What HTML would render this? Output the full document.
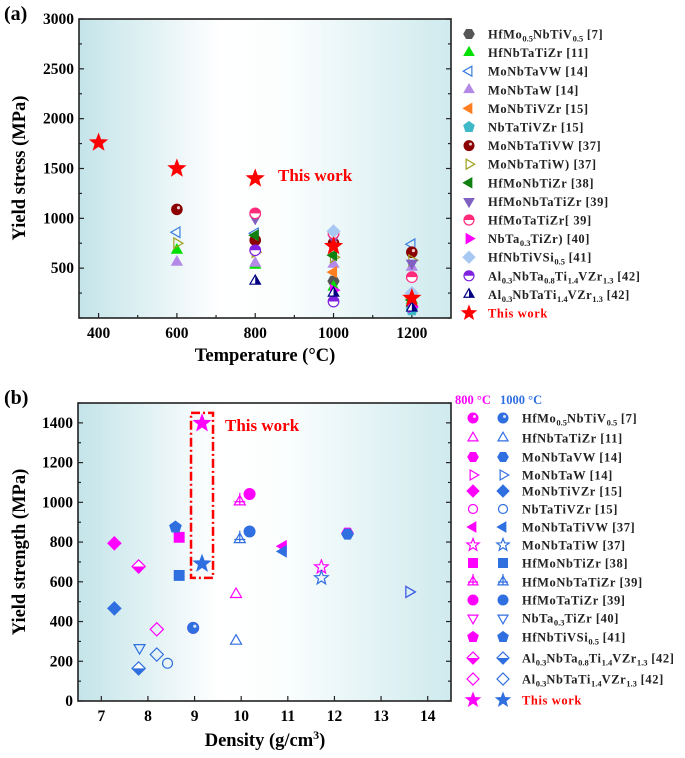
<!DOCTYPE html>
<html><head><meta charset="utf-8">
<style>
html,body{margin:0;padding:0;background:#fff;}
svg{display:block;font-family:"Liberation Serif",serif;font-weight:bold;}
</style></head>
<body>
<svg id="chart" width="685" height="758" viewBox="0 0 685 758" xmlns="http://www.w3.org/2000/svg">
<defs>
<linearGradient id="bgA" x1="0" x2="1" y1="0" y2="0">
<stop offset="0" stop-color="#c4e4e9"/><stop offset="0.38" stop-color="#ffffff"/><stop offset="0.55" stop-color="#fbfefe"/><stop offset="1" stop-color="#cfeaee"/>
</linearGradient>
</defs>
<text x="4" y="20" font-size="20">(a)</text>
<text x="4" y="404" font-size="20">(b)</text>
<g id="gA"></g>
<g id="gB"></g>
</svg>
<script>
// ---------- Panel (a) data ----------
const tempsA = [400, 600, 800, 1000, 1200];
const aHfMo05 = [null, null, null, 370, 120];
const aHfNbTaTiZr = [null, 680, 530, 310, 180];
const aMoNbTaVW = [null, 860, 850, null, 740];
const aMoNbTaW = [null, 560, 550, 540, 510];
const aMoNbTiVZr = [null, null, null, 460, 200];
const aNbTaTiVZr = [null, null, null, null, 80];
const aMoNbTaTiVW = [null, 1090, 780, 750, 660];
const aMoNbTaTiW = [null, 750, 660, 610, 580];
const aHfMoNbTiZr = [null, null, 830, 630, 180];
const aHfMoNbTaTiZr = [null, null, 1000, 800, 550];
const aHfMoTaTiZr = [null, null, 1050, 850, 410];
const aNbTa03TiZr = [null, null, null, 280, 110];
const aHfNbTiVSi = [null, null, null, 870, 250];
const aAlNbTa08 = [null, null, 680, 165, null];
const aAlNbTaTi14 = [null, null, 370, 250, 100];
const aThisWork = [1760, 1500, 1400, 720, 200];
const yTicksA = [500, 1000, 1500, 2000, 2500, 3000];
const xTicksA = [400, 600, 800, 1000, 1200];

// ---------- Panel (b) data ----------
const bNames = ["HfMo_{0.5}NbTiV_{0.5} [7]","HfNbTaTiZr [11]","MoNbTaVW [14]","MoNbTaW [14]","MoNbTiVZr [15]","NbTaTiVZr [15]","MoNbTaTiVW [37]","MoNbTaTiW [37]","HfMoNbTiZr [38]","HfMoNbTaTiZr [39]","HfMoTaTiZr [39]","NbTa_{0.3}TiZr [40]","HfNbTiVSi_{0.5} [41]","Al_{0.3}NbTa_{0.8}Ti_{1.4}VZr_{1.3} [42]","Al_{0.3}NbTaTi_{1.4}VZr_{1.3} [42]","This work"];
const bDensity = [8.97, 9.89, 12.28, 13.6, 7.28, 8.42, 10.9, 11.72, 8.67, 9.97, 10.18, 7.82, 8.59, 7.8, 8.19, 9.16];
const b800 = [368, 537, 845, 549, 794, null, 779, 674, 824, 1003, 1042, null, null, 677, 361, 1398];
const b1000 = [368, 302, 840, 549, 466, 190, 753, 619, 632, 813, 853, 268, 875, 164, 234, 691];
const yTicksB = [0, 200, 400, 600, 800, 1000, 1200, 1400];
const xTicksB = [7, 8, 9, 10, 11, 12, 13, 14];

const NS = "http://www.w3.org/2000/svg";
function el(tag, attrs, parent) {
  const e = document.createElementNS(NS, tag);
  for (const k in attrs) e.setAttribute(k, attrs[k]);
  if (parent) parent.appendChild(e);
  return e;
}
function richText(parent, x, y, str, size, color) {
  const t = el("text", {x: x, y: y, "font-size": size, fill: color, "letter-spacing": 0.6}, parent);
  const parts = str.split(/(_\{[^}]*\})/);
  let sub = false;
  parts.forEach(p => {
    if (!p) return;
    if (p.startsWith("_{")) {
      const s = el("tspan", {dy: 3, "font-size": size * 0.68, "letter-spacing": 0}, t);
      s.textContent = p.slice(2, -1);
      sub = true;
    } else {
      const s = el("tspan", sub ? {dy: -3} : {}, t);
      s.textContent = p;
      sub = false;
    }
  });
  return t;
}
function poly(n, r, rot) {
  const pts = [];
  for (let i = 0; i < n; i++) {
    const a = rot + i * 2 * Math.PI / n;
    pts.push((r * Math.cos(a)).toFixed(2) + "," + (r * Math.sin(a)).toFixed(2));
  }
  return pts.join(" ");
}
function starPts(r) {
  const pts = [];
  for (let i = 0; i < 10; i++) {
    const rr = i % 2 ? r * 0.42 : r;
    const a = -Math.PI / 2 + i * Math.PI / 5;
    pts.push((rr * Math.cos(a)).toFixed(2) + "," + (rr * Math.sin(a)).toFixed(2));
  }
  return pts.join(" ");
}
function marker(parent, type, x, y, c, s) {
  s = s || 5.5;
  const g = el("g", {transform: "translate(" + x + "," + y + ")"}, parent);
  const fill = {fill: c, stroke: c, "stroke-width": 1};
  const open = {fill: "none", stroke: c, "stroke-width": 1.2};
  switch (type) {
    case "circle": el("circle", Object.assign({r: s}, fill), g); break;
    case "ocircle": el("circle", Object.assign({r: s * 0.9}, open), g); break;
    case "sphere": el("circle", Object.assign({r: s}, fill), g); el("circle", {r: s * 0.3, cx: s * 0.3, cy: -s * 0.3, fill: "#fff", opacity: 0.8}, g); break;
    case "halfcircle":
      el("circle", {r: s, fill: "#fff", stroke: c, "stroke-width": 1.2}, g);
      el("path", {d: "M" + (-s) + ",0 A" + s + "," + s + " 0 0 1 " + s + ",0 Z", fill: c}, g); break;
    case "tri": el("polygon", Object.assign({points: poly(3, s * 1.15, -Math.PI / 2)}, fill), g); break;
    case "otri": el("polygon", Object.assign({points: poly(3, s * 1.15, -Math.PI / 2)}, open), g); break;
    case "tplus": el("polygon", Object.assign({points: poly(3, s * 1.15, -Math.PI / 2)}, open), g);
      el("path", Object.assign({d: "M0," + (-s * 1.6) + " V" + (s * 0.6) + " M" + (-s) + ",0 H" + s}, open), g); break;
    case "htri": el("polygon", {points: poly(3, s * 1.15, -Math.PI / 2), fill: "#fff", stroke: c, "stroke-width": 1.2}, g);
      el("polygon", {points: "0," + (-s * 1.15) + " " + (s) + "," + (s * 0.58) + " 0," + (s * 0.58), fill: c}, g); break;
    case "tridown": el("polygon", Object.assign({points: poly(3, s * 1.15, Math.PI / 2)}, fill), g); break;
    case "otridown": el("polygon", Object.assign({points: poly(3, s * 1.15, Math.PI / 2)}, open), g); break;
    case "tril": el("polygon", Object.assign({points: poly(3, s * 1.15, Math.PI)}, fill), g); break;
    case "otril": el("polygon", Object.assign({points: poly(3, s * 1.15, Math.PI)}, open), g); break;
    case "trir": el("polygon", Object.assign({points: poly(3, s * 1.15, 0)}, fill), g); break;
    case "otrir": el("polygon", Object.assign({points: poly(3, s * 1.15, 0)}, open), g); break;
    case "diamond": el("polygon", Object.assign({points: poly(4, s * 1.2, 0)}, fill), g); break;
    case "odiamond": el("polygon", Object.assign({points: poly(4, s * 1.2, 0)}, open), g); break;
    case "hdiamond": el("polygon", {points: poly(4, s * 1.2, 0), fill: "#fff", stroke: c, "stroke-width": 1.2}, g);
      el("polygon", {points: (-s * 1.2) + ",0 " + (s * 1.2) + ",0 0," + (s * 1.2), fill: c}, g); break;
    case "hex": el("polygon", Object.assign({points: poly(6, s * 1.05, 0)}, fill), g); break;
    case "pent": el("polygon", Object.assign({points: poly(5, s * 1.1, -Math.PI / 2)}, fill), g); break;
    case "square": el("rect", Object.assign({x: -s * 0.9, y: -s * 0.9, width: s * 1.8, height: s * 1.8}, fill), g); break;
    case "star": el("polygon", Object.assign({points: starPts(s * 1.45)}, fill), g); break;
    case "ostar": el("polygon", Object.assign({points: starPts(s * 1.3)}, open), g); break;
  }
  return g;
}

function axes(g, L, T, R, B, xs, ys, xTicks, yTicks, xMinor, yMinor, xMin, xMax, yMin, yMax) {
  el("rect", {x: L, y: T, width: R - L, height: B - T, fill: "url(#bgA)"}, g);
  const ax = el("g", {stroke: "#222", "stroke-width": 1.2}, g);
  
  
  for (let v = yMin; v <= yMax + 1e-9; v += yMinor) {
    const major = yTicks.indexOf(Math.round(v)) >= 0;
    const len = major ? 5 : 3;
    el("line", {x1: L, x2: L + len, y1: ys(v), y2: ys(v)}, ax);
    el("line", {x1: R, x2: R - len, y1: ys(v), y2: ys(v)}, ax);
  }
  xMinor.forEach(v => {
    const major = xTicks.indexOf(v) >= 0;
    el("line", {x1: xs(v), x2: xs(v), y1: B, y2: B - (major ? 5 : 3)}, ax);
  });
  const fr = el("rect", {x: L, y: T, width: R - L, height: B - T, fill: "none", stroke: "#222", "stroke-width": 1.6}, g);
  
  
  const yl = el("g", {"font-size": 15.5, "text-anchor": "end"}, g);
  
  
  yTicks.forEach(v => { const t = el("text", {x: L - 5, y: ys(v) + 5}, yl); t.textContent = v; });
  const xl = el("g", {"font-size": 15.5, "text-anchor": "middle"}, g);
  
  
  xTicks.forEach(v => { const t = el("text", {x: xs(v), y: B + 20}, xl); t.textContent = v; });
}

// ---------- Panel (a) ----------
const gA = document.getElementById("gA");


const LA = 79, RA = 451, TA = 19, BA = 318;
const xsA = v => LA + (v - 350) / (1300 - 350) * (RA - LA);
const ysA = v => BA - v / 3000 * (BA - TA);
const minorA = [];
for (let v = 400; v <= 1200; v += 100) minorA.push(v);
axes(gA, LA, TA, RA, BA, xsA, ysA, xTicksA, yTicksA, minorA, 250, 350, 1300, 0, 3000);
{
  const t = el("text", {x: 265, y: 361, "font-size": 18.5, "text-anchor": "middle"}, gA);
  t.textContent = "Temperature (°C)";
  
  
  const y = el("text", {x: 0, y: 0, "font-size": 18.5, "text-anchor": "middle", transform: "translate(25,168) rotate(-90)"}, gA);
  y.textContent = "Yield stress (MPa)";
  
  
}
const seriesA = [
  ["HfMo_{0.5}NbTiV_{0.5} [7]", aHfMo05, "hex", "#555555"],
  ["HfNbTaTiZr [11]", aHfNbTaTiZr, "tri", "#00e000"],
  ["MoNbTaVW [14]", aMoNbTaVW, "otril", "#3a7ee0"],
  ["MoNbTaW [14]", aMoNbTaW, "tri", "#b488e6"],
  ["MoNbTiVZr [15]", aMoNbTiVZr, "tril", "#ff7f20"],
  ["NbTaTiVZr [15]", aNbTaTiVZr, "pent", "#40b8c8"],
  ["MoNbTaTiVW [37]", aMoNbTaTiVW, "sphere", "#8b0000"],
  ["MoNbTaTiW) [37]", aMoNbTaTiW, "otrir", "#a0a020"],
  ["HfMoNbTiZr [38]", aHfMoNbTiZr, "tril", "#108010"],
  ["HfMoNbTaTiZr [39]", aHfMoNbTaTiZr, "tridown", "#8060c0"],
  ["HfMoTaTiZr[ 39]", aHfMoTaTiZr, "halfcircle", "#ff2a7a"],
  ["NbTa_{0.3}TiZr) [40]", aNbTa03TiZr, "trir", "#ff00ff"],
  ["HfNbTiVSi_{0.5} [41]", aHfNbTiVSi, "diamond", "#a8c8f4"],
  ["Al_{0.3}NbTa_{0.8}Ti_{1.4}VZr_{1.3} [42]", aAlNbTa08, "halfcircle", "#8020e0"],
  ["Al_{0.3}NbTaTi_{1.4}VZr_{1.3} [42]", aAlNbTaTi14, "htri", "#000080"],
  ["This work", aThisWork, "star", "#ff0000"]
];
const marksA = el("g", {}, gA);


const legA = el("g", {}, gA);


seriesA.forEach((s, i) => {
  s[1].forEach((v, j) => {
    if (v === null) return;
    const m = marker(marksA, s[2], xsA(tempsA[j]), ysA(v), s[3], s[2] === "star" ? 6 : 5.3);
    
    
  });
  const ly = 34 + i * 18.6;
  const lm = marker(legA, s[2], 469, ly, s[3], 5);
  
  
  const lt = richText(legA, 488, ly + 4.5, s[0], 12.5, i === 15 ? "#ff0000" : "#222");
  
  
});
{
  const t = el("text", {x: 278, y: 181, "font-size": 17, fill: "#ff0000"}, gA);
  t.textContent = "This work";
  
  
}

// ---------- Panel (b) ----------
const gB = document.getElementById("gB");


const LB = 78, RB = 451, TB = 403, BB = 701;
const xsB = v => LB + (v - 6.5) / (14.5 - 6.5) * (RB - LB);
const ysB = v => BB - v / 1500 * (BB - TB);
axes(gB, LB, TB, RB, BB, xsB, ysB, xTicksB, yTicksB, xTicksB, 100, 6.5, 14.5, 0, 1500);
{
  const t = el("text", {x: 265, y: 746, "font-size": 18.5, "text-anchor": "middle"}, gB);
  t.appendChild(document.createTextNode("Density (g/cm"));
  const sp = el("tspan", {dy: -7, "font-size": 12}, t); sp.textContent = "3";
  const sp2 = el("tspan", {dy: 7}, t); sp2.textContent = ")";
  
  
  const y = el("text", {x: 0, y: 0, "font-size": 18.5, "text-anchor": "middle", transform: "translate(25,552) rotate(-90)"}, gB);
  y.textContent = "Yield strength (MPa)";
  
  
}
const shapesB = ["sphere", "otri", "hex", "otrir", "diamond", "ocircle", "tril", "ostar", "square", "tplus", "circle", "otridown", "pent", "hdiamond", "odiamond", "star"];
const C800 = "#ff00ff", C1000 = "#2f6fe0";
const marksB = el("g", {}, gB);


{
  const box = el("rect", {x: xsB(9.16) - 11, y: ysB(1450), width: 22, height: ysB(620) - ysB(1450), fill: "none", stroke: "#ff0000", "stroke-width": 2.5, "stroke-dasharray": "9,3,2,3"}, gB);
  
  
  const t = el("text", {x: 225, y: 431, "font-size": 17, fill: "#ff0000"}, gB);
  t.textContent = "This work";
  
  
}
bDensity.forEach((d, i) => {
  if (b800[i] !== null) {
    const m = marker(marksB, shapesB[i], xsB(d), ysB(b800[i]), C800, i === 15 ? 6 : 5.5);
    
    
  }
});
bDensity.forEach((d, i) => {
  if (b1000[i] !== null) {
    const m = marker(marksB, shapesB[i], xsB(d), ysB(b1000[i]), C1000, i === 15 ? 6 : 5.5);
    
    
  }
});
const legB = el("g", {}, gB);


{
  const h1 = el("text", {x: 455, y: 404, "font-size": 12.5, fill: C800}, legB); h1.textContent = "800 °C";
  
  
  const h2 = el("text", {x: 500, y: 404, "font-size": 12.5, fill: C1000}, legB); h2.textContent = "1000 °C";
  
  
}
const legYB = [418, 438, 457, 475, 491, 509, 527, 545, 563, 582, 600, 618, 637, 658, 679, 700];
bNames.forEach((n, i) => {
  const y = legYB[i];
  const m1 = marker(legB, shapesB[i], 473, y, C800, 5);
  
  
  const m2 = marker(legB, shapesB[i], 503, y, C1000, 5);
  
  
  const t = richText(legB, 522, y + 4.5, n, 12.5, i === 15 ? "#ff0000" : "#222");
  
  
});
</script>
</body></html>
